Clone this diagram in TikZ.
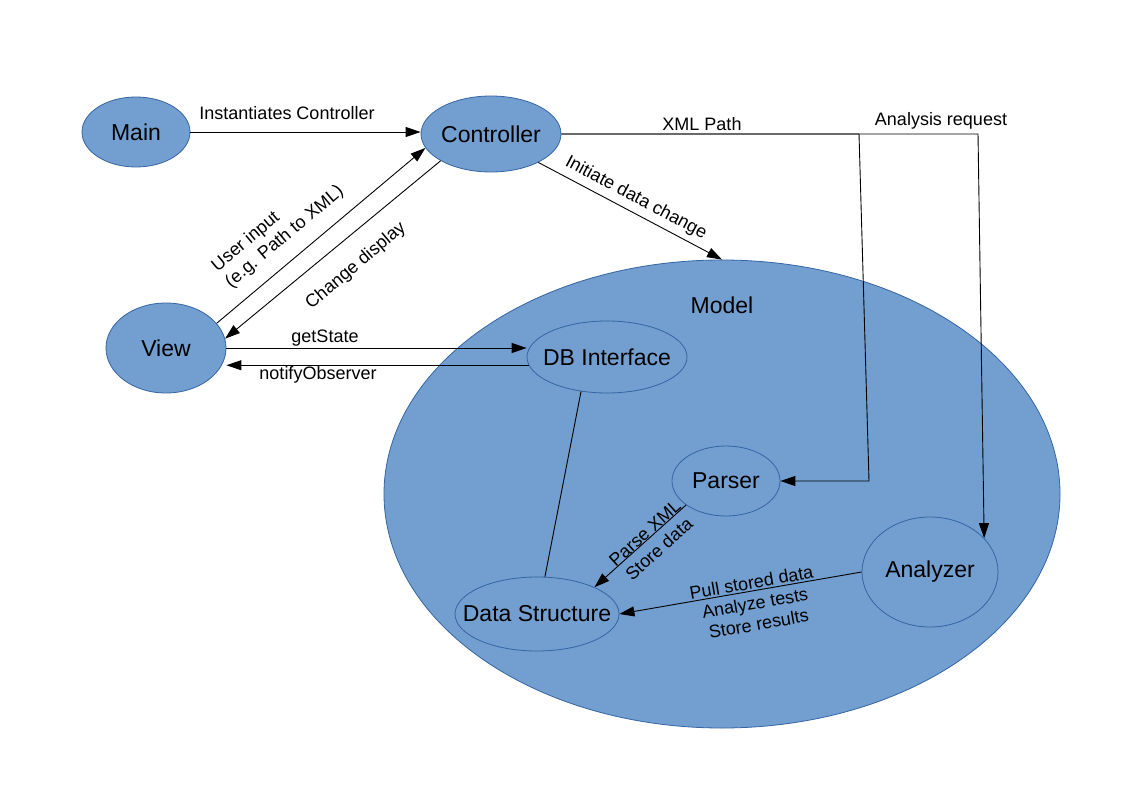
\documentclass[tikz,border=0pt]{standalone}
\usepackage{fontspec}
\setmainfont{Liberation Sans}
\usetikzlibrary{shapes.geometric,arrows.meta}
\definecolor{fillblue}{HTML}{729FCF}
\definecolor{edgeblue}{HTML}{3465A4}
\begin{document}
\begin{tikzpicture}[x=1pt,y=-1pt,
 blob/.style={ellipse, draw=edgeblue, fill=fillblue, line width=0.8pt, inner sep=0pt, font=\fontsize{23}{27}\selectfont},
 biglbl/.style={font=\fontsize{23}{27}\selectfont, inner sep=0pt},
 lbl/.style={font=\fontsize{18}{21}\selectfont, inner sep=0pt},
 conn/.style={draw=black, line width=0.9pt},
 arr/.style={conn, -{Triangle[length=15pt,width=10pt]}},
]
\useasboundingbox[fill=white] (0,0) rectangle (1123,794);
\node[blob, minimum width=676pt, minimum height=468pt] (model) at (722,494) {};
\node[biglbl] (modellbl) at (722,305) {Model};
\node[blob, minimum width=108pt, minimum height=70pt] (main) at (136,132) {\makebox[0pt]{Main}};
\node[blob, minimum width=140pt, minimum height=76pt] (ctrl) at (491,134) {\makebox[0pt]{Controller}};
\node[blob, minimum width=120pt, minimum height=90pt] (view) at (166,348) {\makebox[0pt]{View}};
\node[blob, minimum width=160pt, minimum height=72pt] (db) at (607,357) {\makebox[0pt]{DB Interface}};
\node[blob, minimum width=108pt, minimum height=70pt] (parser) at (726,481) {\makebox[0pt]{Parser}};
\node[blob, minimum width=136pt, minimum height=110pt] (analyzer) at (930,572) {\makebox[0pt]{Analyzer}};
\node[blob, minimum width=164pt, minimum height=74pt] (ds) at (537,614) {\makebox[0pt]{Data Structure}};

\draw[arr] (main.east) -- (main.east -| ctrl.west);
\draw[arr] (view.26) -- (ctrl.192);
\draw[arr] (ctrl.208) -- (view.9);
\draw[arr] (view.east) -- (view.east -| db.west);
\draw[arr] (db.186) -- (db.186 -| view.east);
\draw[arr] (ctrl.-31) -- (model.north);
\coordinate (xmlA) at (859,134);
\coordinate (xmlB) at (869,481);
\draw[arr] (ctrl.east) -- (xmlA) -- (xmlB) -- (parser.east);
\coordinate (anA) at (978,134);
\draw[arr] (ctrl.east) -- (anA) -- (analyzer.32);
\draw[conn] (db.-127) -- (ds.78);
\draw[arr] (parser.211) -- (ds.25);
\draw[arr] (analyzer.west) -- (ds.east);

\node[lbl] (l1) at (287,113) {Instantiates Controller};
\node[lbl, rotate=40, align=left] (l2) at (278,229) {User input\\(e.g. Path to XML)};
\node[lbl, rotate=40] (l3) at (356,266) {Change display};
\node[lbl] (l4) at (325,338) {getState};
\node[lbl] (l5) at (318,375) {notifyObserver};
\node[lbl, rotate=-28] (l6) at (636,198) {Initiate data change};
\node[lbl] (l7) at (702,124) {XML Path};
\node[lbl] (l8) at (941,121) {Analysis request};
\node[lbl, rotate=42, align=center] (l9) at (652,541) {Parse XML\\Store data};
\node[lbl, rotate=10, align=center] (l10) at (755,603) {Pull stored data\\Analyze tests\\Store results};
\end{tikzpicture}
\end{document}
